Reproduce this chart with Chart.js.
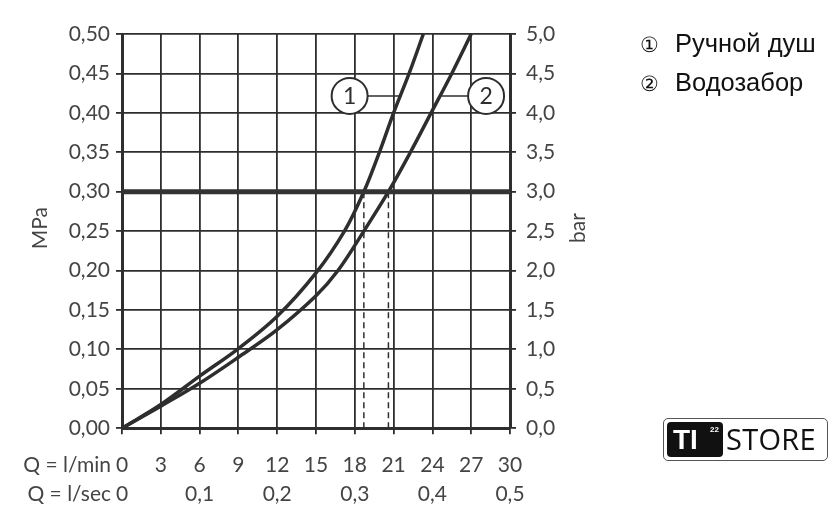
<!DOCTYPE html>
<html>
<head>
<meta charset="utf-8">
<script src="https://cdn.jsdelivr.net/npm/chart.js@4/dist/chart.umd.min.js"></script>
<style>
  html, body { margin: 0; padding: 0; background: #fff; }
  #wrap { position: relative; width: 840px; height: 532px; }
  #chart { position: absolute; left: 0; top: 0; }
  .legend { position: absolute; left: 640px; font-family: "Liberation Sans", Arial, sans-serif; color: #111; font-size: 25.5px; line-height: 28px; white-space: nowrap; }
  .legend .num { font-size: 21px; margin-right: 16px; }
  .logo { position: absolute; left: 663px; top: 418px; width: 165px; height: 43px; border: 1.5px solid #555; border-radius: 5px; box-sizing: border-box; font-family: "Open Sans", sans-serif; }
  .logo .ti { position: absolute; left: 3px; top: 3px; width: 56px; height: 35px; background: #111; border-radius: 4px; color: #fff; font-family: "Liberation Sans", Arial, sans-serif; font-weight: bold; font-size: 28px; line-height: 35px; padding-left: 6px; box-sizing: border-box; }
  .logo .ti sup { position: absolute; left: 43px; top: -10px; font-size: 8px; font-weight: bold; }
  .logo .store { position: absolute; left: 62px; top: 1px; font-size: 29px; line-height: 38px; color: #111; letter-spacing: 0.3px; }
</style>
</head>
<body>
<div id="wrap">
  <canvas id="chart" width="840" height="532"></canvas>
  <div class="legend" style="top:29px"><span class="num">①</span>Ручной душ</div>
  <div class="legend" style="top:68px"><span class="num">②</span>Водозабор</div>
  <div class="logo"><div class="ti">TI<sup>22</sup></div><div class="store">STORE</div></div>
</div>
<script>
// ---------- 数据 ----------
// 曲线 1：Ручной душ (l/min, MPa)
const flow1 = [0, 3, 6, 9, 12, 15, 17.2, 18.7, 19.9, 21.0, 22.2, 23.3];
const press1 = [0, 0.030, 0.066, 0.101, 0.142, 0.197, 0.25, 0.30, 0.35, 0.40, 0.45, 0.50];
// 曲线 2：Водозабор
const flow2 = [0, 3, 6, 9, 12, 15, 16.7, 18.7, 20.6, 22.3, 23.9, 25.5, 27.0];
const press2 = [0, 0.028, 0.057, 0.090, 0.125, 0.168, 0.20, 0.25, 0.30, 0.35, 0.40, 0.45, 0.50];

// 刻度标签
const minLabels = ['0', '3', '6', '9', '12', '15', '18', '21', '24', '27', '30'];
const secLabels = ['0', '', '0,1', '', '0,2', '', '0,3', '', '0,4', '', '0,5'];

// 参考线与标注
const refPressure = 0.30;
const refFlows = [18.7, 20.6];
const calloutLabels = ['1', '2'];
const calloutX = [17.6, 28.15];
const calloutY = 0.4215;
const leader1 = [19.0, 21.6];
const leader2 = [24.7, 26.8];

const INK = '#2e2e2e';
const TEXT = '#444';
const FONT = 'Lato, "DejaVu Sans", sans-serif';

const toPts = (xs, ys) => xs.map((x, i) => ({ x, y: ys[i] }));
const comma = (v, d) => v.toFixed(d).replace('.', ',');

// ---------- 自定义文字绘制 ----------
const extraText = {
    id: 'extraText',
    afterDatasetsDraw(chart) {
        const { ctx, chartArea } = chart;
        ctx.save();
        ctx.fillStyle = TEXT;
        ctx.font = '21px ' + FONT;
        // 轴标题（自下而上）
        const midY = (chartArea.top + chartArea.bottom) / 2;
        [['MPa', 40], ['bar', 578]].forEach(([t, x]) => {
            ctx.save();
            ctx.translate(x, midY - 3);
            ctx.rotate(-Math.PI / 2);
            ctx.textAlign = 'center';
            ctx.textBaseline = 'middle';
            ctx.fillText(t, 0, 0);
            ctx.restore();
        });
        // 流量单位
        ctx.textAlign = 'right';
        ctx.textBaseline = 'middle';
        ctx.fillText('Q = l/min', 111, 465);
        ctx.fillText('Q = l/sec', 111, 494);
        // 圆圈编号
        const meta = chart.getDatasetMeta(chart.data.datasets.findIndex(d => d.id === 'callouts'));
        ctx.fillStyle = INK;
        ctx.font = '23px ' + FONT;
        ctx.textAlign = 'center';
        meta.data.forEach((pt, i) => ctx.fillText(calloutLabels[i], pt.x, pt.y + 1));
        ctx.restore();
    }
};

const lineDs = (data, width, extra) => Object.assign({
    data, borderColor: INK, borderWidth: width, pointRadius: 0,
    showLine: true, fill: false
}, extra || {});

new Chart(document.getElementById('chart'), {
    type: 'scatter',
    data: {
        datasets: [
            lineDs([{ x: 0, y: refPressure }, { x: 30, y: refPressure }], 5, { borderColor: '#333' }),
            lineDs([{ x: refFlows[0], y: 0 }, { x: refFlows[0], y: refPressure }], 1.5, { borderDash: [6, 4] }),
            lineDs([{ x: refFlows[1], y: 0 }, { x: refFlows[1], y: refPressure }], 1.5, { borderDash: [6, 4] }),
            lineDs([{ x: leader1[0], y: calloutY }, { x: leader1[1], y: calloutY }], 1.5),
            lineDs([{ x: leader2[0], y: calloutY }, { x: leader2[1], y: calloutY }], 1.5),
            lineDs(toPts(flow1, press1), 3.5, { tension: 0.35 }),
            lineDs(toPts(flow2, press2), 3.5, { tension: 0.35 }),
            {
                id: 'callouts',
                data: calloutX.map(x => ({ x, y: calloutY })),
                showLine: false,
                pointRadius: 18,
                pointBackgroundColor: '#fff',
                pointBorderColor: INK,
                pointBorderWidth: 2,
            }
        ]
    },
    options: {
        responsive: false,
        animation: false,
        events: [],
        layout: { padding: { top: 34, right: 250, bottom: 7, left: 0 } },
        plugins: { legend: { display: false }, tooltip: { enabled: false } },
        scales: {
            x: {
                type: 'linear', min: 0, max: 30,
                afterBuildTicks: s => { s.ticks = minLabels.map((_, i) => ({ value: i * 3 })); },
                ticks: {
                    color: TEXT, padding: 16, maxRotation: 0, autoSkip: false,
                    font: { family: FONT, size: 21, lineHeight: 1.4 },
                    callback: (v, i) => [minLabels[i], secLabels[i]]
                },
                grid: { color: INK, lineWidth: 1.8, tickLength: 6 },
                border: { color: INK, width: 3 }
            },
            y: {
                min: 0, max: 0.5,
                afterFit: s => { s.width = 122; },
                ticks: {
                    stepSize: 0.05, color: TEXT, padding: 6,
                    font: { family: FONT, size: 21 },
                    callback: v => comma(v, 2)
                },
                grid: { color: INK, lineWidth: 1.8, tickLength: 6 },
                border: { color: INK, width: 3 }
            },
            y2: {
                position: 'right', min: 0, max: 0.5,
                afterFit: s => { s.width = 80; },
                ticks: {
                    stepSize: 0.05, color: TEXT, padding: 10,
                    font: { family: FONT, size: 21 },
                    callback: v => comma(v * 10, 1)
                },
                grid: { color: INK, lineWidth: 1.8, tickLength: 6, drawOnChartArea: false },
                border: { color: INK, width: 3 }
            }
        }
    },
    plugins: [extraText]
});
</script>
</body>
</html>
